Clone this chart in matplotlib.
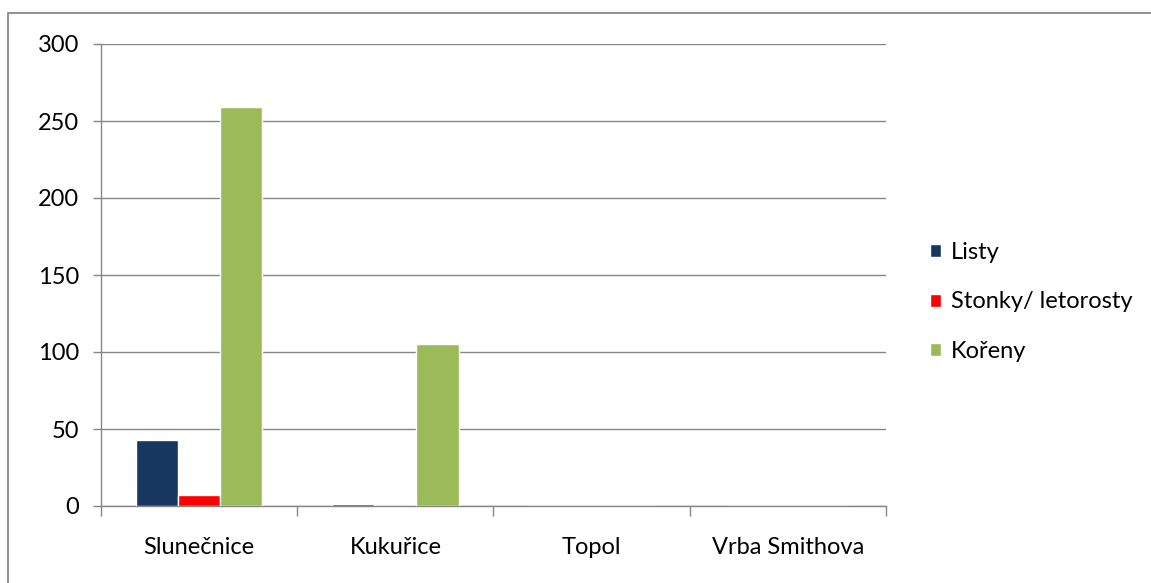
import matplotlib

matplotlib.use("Agg")
import matplotlib.pyplot as plt
import numpy as np
from matplotlib.patches import Rectangle

categories = ["Slunečnice", "Kukuřice", "Topol", "Vrba Smithova"]
series_names = ["Listy", "Stonky/ letorosty", "Kořeny"]
listy = [43, 1, 0, 0]
stonky = [7, 0, 0, 0]
koreny = [259, 105, 0, 0]
colors = ["#17375E", "#FF0000", "#9BBB59"]
y_ticks = [0, 50, 100, 150, 200, 250, 300]

plt.rcParams["font.family"] = ["Lato", "DejaVu Sans"]

W, H = 1151, 583
fig = plt.figure(figsize=(W / 100, H / 100), dpi=100)
ax = fig.add_axes([101 / W, 1 - 506 / H, 785 / W, 462 / H])

# outer chart frame (only top/left visible)
fig.patches.append(Rectangle((8 / W, -0.1), 1.2, 1 - 13 / H + 0.1, transform=fig.transFigure,
                             fill=False, edgecolor="#878787", linewidth=1.3))

x = np.arange(len(categories))
w = 0.215
for i, (vals, name, c) in enumerate(zip([listy, stonky, koreny], series_names, colors)):
    ax.bar(x + (i - 1) * w, vals, width=w, color=c, edgecolor="white", linewidth=1.0,
           label=name, zorder=3)

ax.set_xlim(-0.5, len(categories) - 0.5)
ax.set_ylim(0, 300)
ax.set_yticks(y_ticks)
ax.set_yticklabels([str(t) for t in y_ticks], fontsize=17)
ax.yaxis.grid(True, color="#868686", linewidth=1.0, zorder=0)
ax.set_axisbelow(True)

ax.set_xticks(np.arange(-0.5, len(categories) + 0.5, 1))
ax.set_xticklabels([])
ax.set_xticks(x, minor=True)
ax.set_xticklabels(categories, minor=True, fontsize=17)
ax.tick_params(axis="x", which="minor", length=0, pad=22)
ax.tick_params(axis="x", which="major", length=7, color="#868686", width=1.0)
ax.tick_params(axis="y", length=6, color="#868686", width=1.0, pad=9.5)

for s in ["top", "right"]:
    ax.spines[s].set_visible(False)
for s in ["left", "bottom"]:
    ax.spines[s].set_color("#868686")
    ax.spines[s].set_linewidth(1.0)

ax.legend(loc="center left", bbox_to_anchor=((930 - 101) / 785, (506 - 302) / 462),
          frameon=False, fontsize=17, borderaxespad=0, borderpad=0,
          handlelength=0.47, handleheight=0.47, handletextpad=0.4, labelspacing=1.2)

fig.savefig("out.png", dpi=100)
